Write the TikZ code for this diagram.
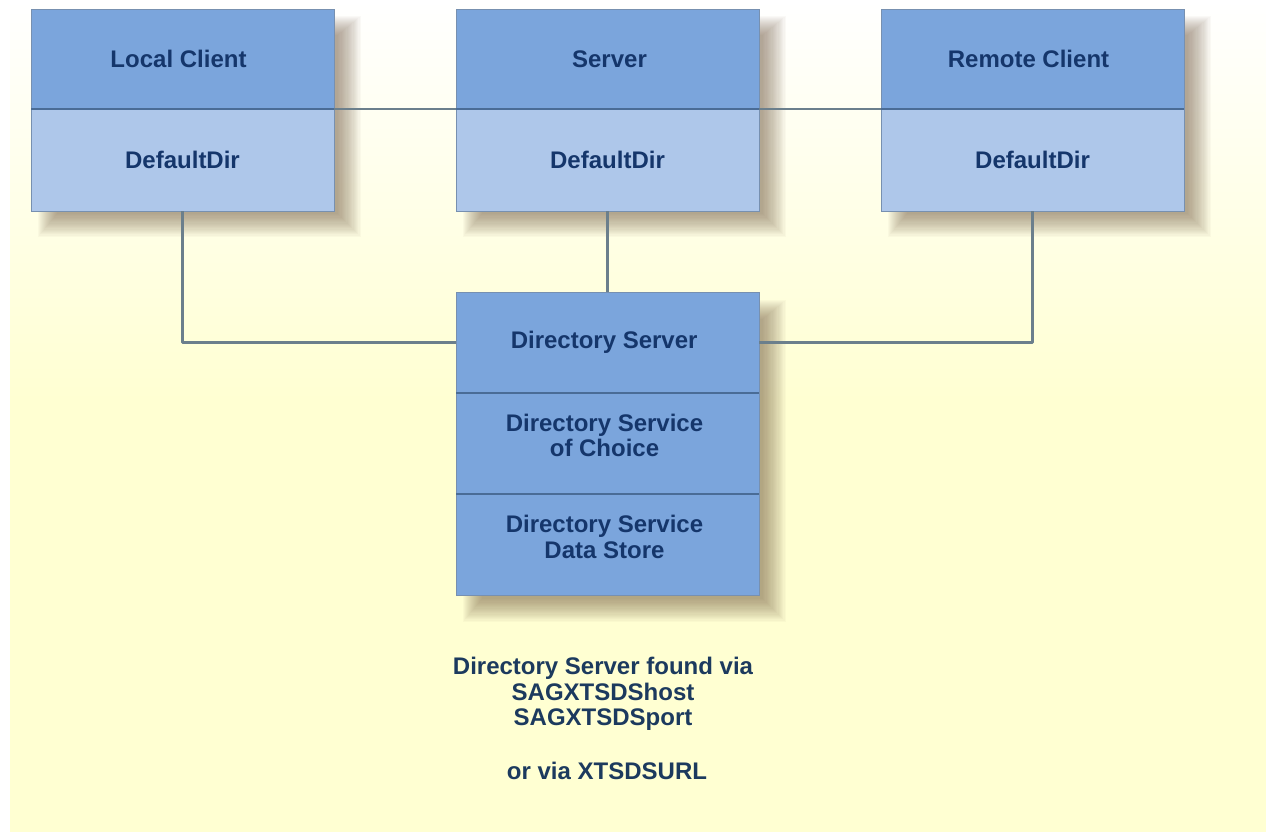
\documentclass[tikz,border=0pt]{standalone}
\usepackage{fontspec}
\setmainfont{Liberation Sans}
\definecolor{headblue}{HTML}{7BA5DC}
\definecolor{lightblue}{HTML}{AEC7EA}
\definecolor{edgeblue}{HTML}{7790B0}
\definecolor{sepblue}{HTML}{4A6C96}
\definecolor{textblue}{HTML}{15366B}
\definecolor{captext}{HTML}{1C3A5E}
\definecolor{linegray}{HTML}{6B7F8C}
\definecolor{paper}{HTML}{FFFFD2}
\definecolor{shadowc}{HTML}{6B5038}
\tikzset{
  x=0.75pt,y=-0.75pt,
  labeltext/.style={inner sep=0pt,align=center,text=textblue,
    font=\bfseries\fontsize{18}{19.3}\selectfont},
  boxbase/.style={minimum width=227.25pt,inner sep=0pt,outer sep=0pt,align=center,
    font=\bfseries\fontsize{18}{19.3}\selectfont,text=textblue,draw=edgeblue,line width=0.6pt},
  headbox/.style={boxbase,fill=headblue,minimum height=75pt},
  dirbox/.style={boxbase,fill=lightblue,minimum height=76.5pt},
  dsbox/.style={boxbase,fill=headblue,minimum height=75.75pt},
  wire/.style={draw=linegray,line width=1.9pt,line join=round},
  sepline/.style={draw=sepblue,line width=0.9pt},
  captext/.style={inner sep=0pt,align=center,text=captext,
    font=\bfseries\fontsize{18}{19.2}\selectfont}
}
\newcommand{\softshadow}[4]{%
  \foreach \k in {0,1,...,19}{
    \fill[shadowc,opacity=0.03]
      ({#1+26-\k*1.0},{#2+26-\k*1.0}) rectangle ({#3+4+\k*1.2},{#4+3+\k*1.2});
  }}
\begin{document}
\begin{tikzpicture}
\useasboundingbox (0,0) rectangle (1266,832);
\fill[white] (0,0) rectangle (1266,832);
\shade[top color=white,bottom color=paper] (10,0) rectangle (1266,400);
\fill[paper] (10,399.5) rectangle (1266,832);
\softshadow{31}{9}{334}{211}
\softshadow{456}{9}{759}{211}
\softshadow{881}{9}{1184}{211}
\softshadow{456}{293}{759}{596}
\node[headbox] (lh) at (182.5,59) {\hspace*{-6pt}Local Client};
\node[dirbox]  (ld) at (182.5,160) {DefaultDir};
\node[headbox] (sh) at (607.5,59) {\hspace*{3pt}Server};
\node[dirbox]  (sd) at (607.5,160) {DefaultDir};
\node[headbox] (rh) at (1032.5,59) {\hspace*{-6pt}Remote Client};
\node[dirbox]  (rd) at (1032.5,160) {DefaultDir};
\node[dsbox] (ds1) at (607.5,342.5) {\hspace*{-5pt}Directory Server};
\node[dsbox,label={[labeltext,xshift=-2.25pt,yshift=6pt]center:Directory Service\\of Choice}] (ds2) at (607.5,443.5) {};
\node[dsbox,label={[labeltext,xshift=-2.25pt,yshift=6pt]center:Directory Service\\Data Store}] (ds3) at (607.5,545) {};
\node[captext] (c1) at (603,694) {Directory Server found via\\SAGXTSDShost\\SAGXTSDSport};
\node[captext] (c2) at (607,771) {or via XTSDSURL};
\draw[sepline] (lh.south west) -- (lh.south east);
\draw[sepline] (sh.south west) -- (sh.south east);
\draw[sepline] (rh.south west) -- (rh.south east);
\draw[sepline] (ds1.south west) -- (ds1.south east);
\draw[sepline] (ds2.south west) -- (ds2.south east);
\draw[wire] (lh.south east) -- (sh.south west);
\draw[wire] (sh.south east) -- (rh.south west);
\draw[wire] (sd.south) -- (ds1.north);
\draw[wire] (ld.south) |- (ds1.west);
\draw[wire] (rd.south) |- (ds1.east);
\end{tikzpicture}
\end{document}
